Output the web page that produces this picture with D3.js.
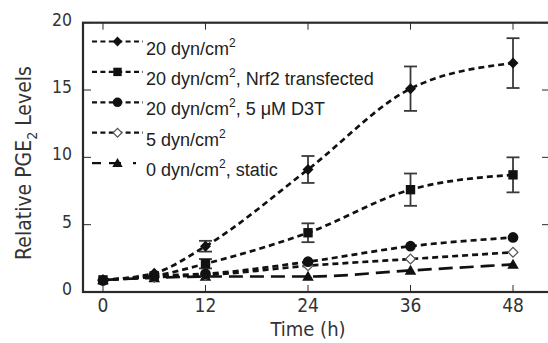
<!DOCTYPE html>
<html>
<head>
<meta charset="utf-8">
<script src="https://cdn.jsdelivr.net/npm/d3@7"></script>
<style>
  body { margin: 0; background: #fff; }
  svg { display: block; }
</style>
</head>
<body>
<script>
// Data
var times = [0, 6, 12, 24, 36, 48];

var shear20 = [0.9, 1.4, 3.4, 9.1, 15.1, 17.0];
var shear20Err = [0, 0, 0.4, 1.0, 1.65, 1.85];

var nrf2 = [0.9, 1.2, 2.1, 4.4, 7.6, 8.7];
var nrf2Err = [0, 0, 0.35, 0.7, 1.2, 1.3];

var d3t = [0.85, 1.2, 1.35, 2.25, 3.4, 4.05];
var shear5 = [0.9, 1.1, 1.25, 1.95, 2.45, 2.95];
var staticCtl = [0.9, 1.05, 1.15, 1.15, 1.6, 2.05];

var xTicks = [0, 12, 24, 36, 48];
var yTicks = [0, 5, 10, 15, 20];

var seriesNames = ["20 dyn/cm", "20 dyn/cm", "20 dyn/cm", "5 dyn/cm", "0 dyn/cm"];
var seriesSuffix = ["", ", Nrf2 transfected", ", 5 \u03bcM D3T", "", ", static"];

// Set up the chart
var width = 548, height = 343;
var plot = {left: 83, right: 550, top: 22.7, bottom: 292};

var svg = d3.select("body").append("svg")
    .attr("width", width)
    .attr("height", height);

var x = d3.scaleLinear().domain([-2.34, 52.33]).range([plot.left, plot.right]);
var y = d3.scaleLinear().domain([0, 20]).range([plot.bottom, plot.top]);

var ink = "#111";
var axisInk = "#2a2a2a";

var series = [
  {values: shear20, err: shear20Err, marker: "diamond", dash: "6,4"},
  {values: nrf2, err: nrf2Err, marker: "square", dash: "6,4"},
  {values: d3t, err: null, marker: "circle", dash: "6,4"},
  {values: shear5, err: null, marker: "open", dash: "6,4"},
  {values: staticCtl, err: null, marker: "triangle", dash: "14,7"}
];

function markerPath(type, scale) {
  scale = scale || 1;
  if (type === "diamond") return d3.symbol().type(d3.symbolSquare).size(60 * scale)();
  if (type === "open") return d3.symbol().type(d3.symbolSquare).size(48 * scale)();
  if (type === "square") return d3.symbol().type(d3.symbolSquare).size(88 * scale)();
  if (type === "circle") return d3.symbol().type(d3.symbolCircle).size(90 * scale)();
  return d3.symbol().type(d3.symbolTriangle).size(58 * scale)();
}

function drawMarker(g, type, cx, cy, scale) {
  var rot = (type === "diamond" || type === "open") ? " rotate(45)" : "";
  var dy = type === "triangle" ? 1 : 0;
  g.append("path")
    .attr("d", markerPath(type, scale))
    .attr("transform", "translate(" + cx + "," + (cy + dy) + ")" + rot)
    .attr("fill", type === "open" ? "#fff" : ink)
    .attr("stroke", type === "open" ? "#555" : "none")
    .attr("stroke-width", 1.2);
}

var line = d3.line()
    .x((d, i) => x(times[i]))
    .y(d => y(d))
    .curve(d3.curveMonotoneX);

// Lines (drawn back to front)
var lines = svg.append("g");
series.slice().reverse().forEach(function(s) {
  lines.append("path")
    .datum(s.values)
    .attr("d", line)
    .attr("fill", "none")
    .attr("stroke", ink)
    .attr("stroke-width", 2.7)
    .attr("stroke-dasharray", s.dash);
});

// Error bars
var bars = svg.append("g").attr("stroke", "#3a3a3a").attr("stroke-width", 1.8);
series.forEach(function(s) {
  if (!s.err) return;
  s.values.forEach(function(v, i) {
    var e = s.err[i];
    if (!e) return;
    var cx = x(times[i]);
    bars.append("line").attr("x1", cx).attr("x2", cx).attr("y1", y(v - e)).attr("y2", y(v + e));
    bars.append("line").attr("x1", cx - 6.5).attr("x2", cx + 6.5).attr("y1", y(v - e)).attr("y2", y(v - e));
    bars.append("line").attr("x1", cx - 6.5).attr("x2", cx + 6.5).attr("y1", y(v + e)).attr("y2", y(v + e));
  });
});

// Markers
var marks = svg.append("g");
series.slice().reverse().forEach(function(s) {
  s.values.forEach(function(v, i) {
    drawMarker(marks, s.marker, x(times[i]), y(v), 1);
  });
});

// Frame with inward ticks
var frame = svg.append("g").attr("stroke", axisInk).attr("fill", "none");
frame.append("rect")
    .attr("x", plot.left).attr("y", plot.top)
    .attr("width", plot.right - plot.left).attr("height", plot.bottom - plot.top)
    .attr("stroke-width", 2.2);

xTicks.forEach(function(t) {
  frame.append("line").attr("x1", x(t)).attr("x2", x(t)).attr("y1", plot.bottom).attr("y2", plot.bottom - 7).attr("stroke-width", 1);
  frame.append("line").attr("x1", x(t)).attr("x2", x(t)).attr("y1", plot.top).attr("y2", plot.top + 7).attr("stroke-width", 1);
});
yTicks.forEach(function(t) {
  frame.append("line").attr("y1", y(t)).attr("y2", y(t)).attr("x1", plot.left).attr("x2", plot.left + 8).attr("stroke-width", 1);
  frame.append("line").attr("y1", y(t)).attr("y2", y(t)).attr("x1", plot.right).attr("x2", plot.right - 8).attr("stroke-width", 1);
});

// Tick labels
var tickFont = "'DejaVu Sans Condensed', 'DejaVu Sans', sans-serif";
svg.append("g").selectAll("text")
    .data(yTicks).enter().append("text")
    .attr("x", plot.left - 11)
    .attr("y", d => y(d) + 3)
    .attr("text-anchor", "end")
    .attr("font-family", tickFont)
    .attr("font-size", 17.5)
    .attr("fill", "#333")
    .text(d => d);

svg.append("g").selectAll("text")
    .data(xTicks).enter().append("text")
    .attr("x", d => x(d))
    .attr("y", plot.bottom + 20)
    .attr("text-anchor", "middle")
    .attr("font-family", tickFont)
    .attr("font-size", 19)
    .attr("fill", "#333")
    .text(d => d);

// Axis titles
svg.append("text")
    .attr("x", x(24))
    .attr("y", 335.5)
    .attr("text-anchor", "middle")
    .attr("font-family", tickFont)
    .attr("font-size", 20)
    .attr("fill", "#333")
    .text("Time (h)");

var yl = svg.append("text")
    .attr("transform", "translate(31," + 163 + ") rotate(-90)")
    .attr("text-anchor", "middle")
    .attr("font-family", tickFont)
    .attr("font-size", 21)
    .attr("fill", "#333");
yl.append("tspan").text("Relative PGE");
yl.append("tspan").attr("font-size", 14).attr("dy", 6).text("2");
yl.append("tspan").attr("dy", -6).text(" Levels");

// Legend
var legend = svg.append("g");
series.forEach(function(s, i) {
  var ly = 41.5 + i * 30.4;
  var row = legend.append("g");
  row.append("line")
    .attr("x1", 92).attr("x2", 143)
    .attr("y1", ly).attr("y2", ly)
    .attr("stroke", ink)
    .attr("stroke-width", 2.2)
    .attr("stroke-dasharray", s.marker === "triangle" ? "9,8,12,12,3" : "5,3.4");
  drawMarker(row, s.marker, 117.5, ly, 0.8);
  var t = row.append("text")
    .attr("x", 146)
    .attr("y", ly + 13)
    .attr("font-family", "'Liberation Sans', Arial, sans-serif")
    .attr("font-size", 18)
    .attr("fill", "#222");
  t.append("tspan").text(seriesNames[i]);
  t.append("tspan").attr("font-size", 12).attr("dy", -8).text("2");
  t.append("tspan").attr("dy", 8).text(seriesSuffix[i]);
});
</script>
</body>
</html>
